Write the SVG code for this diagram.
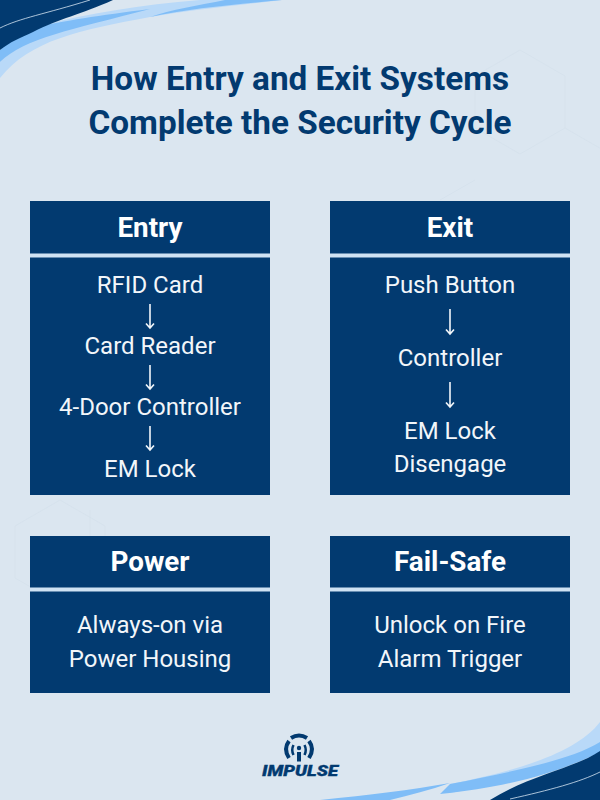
<svg xmlns="http://www.w3.org/2000/svg" width="600" height="800" viewBox="0 0 600 800">
<style>
.panel{fill:#023a70}
.div{fill:#cfe2f3}
.head{font:700 27.800px Roboto,"Liberation Sans",sans-serif;fill:#fff;text-anchor:middle}
.body{font:400 24px Roboto,"Liberation Sans",sans-serif;fill:#f2f6fa;text-anchor:middle}
.title{font:700 33.300px Roboto,"Liberation Sans",sans-serif;fill:#023a70;text-anchor:middle}
.arr{fill:none;stroke:#f2f6fa;stroke-width:1.6}
.hex{fill:none;stroke:#d1dee9;stroke-width:1}
.light{fill:#b9d9f8}
.mid{fill:#7fbdf7}
.dark{fill:#023a70}
.hair{fill:none;stroke:#d5e4f2;stroke-width:.8}
.logo{fill:none;stroke:#023a70}
</style>
<rect width="600" height="800" fill="#dbe6f0"/>
<g id="background-pattern">
<path class="hex" d="M520 50l45 26v52l-45 26-45-26V76zM565 128l45 26v52M60 500l45 26v52l-45 26-45-26v-52zM440 200l35-20M90 510v60" opacity=".45"/>
</g>
<g id="swoosh-top">
<path class="light" d="M43 25C90 13 140 5 200 0H282C230 6 190 10 150 17C80 30 30 40 0 78V62Z"/>
<path class="mid" d="M0 50V62C25 38 70 30 150 9C100 15 60 22 40 26C25 32 10 40 0 50Z"/>
<path class="mid" d="M150 17C190 8 240 4 282 0H225C200 5 170 10 150 17Z"/>
<path class="dark" d="M0 0H113C80 15 60 18 33 32C20 38 10 42 0 50Z"/>
<path class="hair" d="M0 28C20 18 45 14 90 0"/>
</g>
<g id="swoosh-bottom">
<path class="light" d="M600 722C575 755 510 772 450 784L450 793C520 780 570 765 600 743Z"/>
<path class="mid" d="M600 742C570 760 520 770 450 784L440 794C510 787 560 772 600 752Z"/>
<path class="mid" d="M320 800C370 795 410 790 450 783C430 790 410 795 390 800Z"/>
<path class="dark" d="M600 751C575 768 530 775 490 800H600Z"/>
<path class="hair" d="M510 799C550 790 580 782 600 772"/>
</g>
<text class="title" x="300" y="90">How Entry and Exit Systems</text>
<text class="title" x="300" y="134">Complete the Security Cycle</text>
<g id="entry">
<rect class="panel" x="30" y="201" width="240" height="294"/>
<rect class="div" x="30" y="253.500" width="240" height="4"/>
<text class="head" x="150" y="237">Entry</text>
<text class="body" x="150" y="293">RFID Card</text>
<text class="body" x="150" y="354">Card Reader</text>
<text class="body" x="150" y="415">4-Door Controller</text>
<text class="body" x="150" y="477">EM Lock</text>
</g>
<g id="exit">
<rect class="panel" x="330" y="201" width="240" height="294"/>
<rect class="div" x="330" y="253.500" width="240" height="4"/>
<text class="head" x="450" y="237">Exit</text>
<text class="body" x="450" y="293">Push Button</text>
<text class="body" x="450" y="366">Controller</text>
<text class="body" x="450" y="439">EM Lock</text>
<text class="body" x="450" y="472">Disengage</text>
</g>
<g id="power">
<rect class="panel" x="30" y="536" width="240" height="157"/>
<rect class="div" x="30" y="587.500" width="240" height="4"/>
<text class="head" x="150" y="571">Power</text>
<text class="body" x="150" y="633">Always-on via</text>
<text class="body" x="150" y="667">Power Housing</text>
</g>
<g id="fail-safe">
<rect class="panel" x="330" y="536" width="240" height="157"/>
<rect class="div" x="330" y="587.500" width="240" height="4"/>
<text class="head" x="450" y="571">Fail-Safe</text>
<text class="body" x="450" y="633">Unlock on Fire</text>
<text class="body" x="450" y="667">Alarm Trigger</text>
</g>
<g id="connectors">
<path class="arr" d="M150 304V328M146 323.500L150 328L154 323.500"/>
<path class="arr" d="M150 365V389M146 384.500L150 389L154 384.500"/>
<path class="arr" d="M150 426V450M146 445.500L150 450L154 445.500"/>
<path class="arr" d="M450 309V334M446 329.500L450 334L454 329.500"/>
<path class="arr" d="M450 382V407M446 402.500L450 407L454 402.500"/>
</g>
<g id="logo">
<path class="logo" stroke-width="4" d="M291 738Q299 733 307 738"/>
<path class="logo" stroke-width="4" d="M289 741Q283 749 289 758"/>
<path class="logo" stroke-width="4" d="M309 741Q315 749 309 758"/>
<path class="logo" stroke-width="2.500" d="M293.500 745Q291 750 293.500 755M304.500 745Q307 750 304.500 755"/>
<circle cx="299" cy="748" r="2.200" fill="#023a70"/>
<rect x="297" y="752" width="4" height="9.500" fill="#023a70"/>
<text x="300" y="776" text-anchor="middle" font-family="Roboto,'Liberation Sans',sans-serif" font-weight="900" font-style="italic" font-size="14" fill="#023a70" stroke="#023a70" stroke-width=".3" textLength="76" lengthAdjust="spacingAndGlyphs">IMPULSE</text>
</g>
</svg>
